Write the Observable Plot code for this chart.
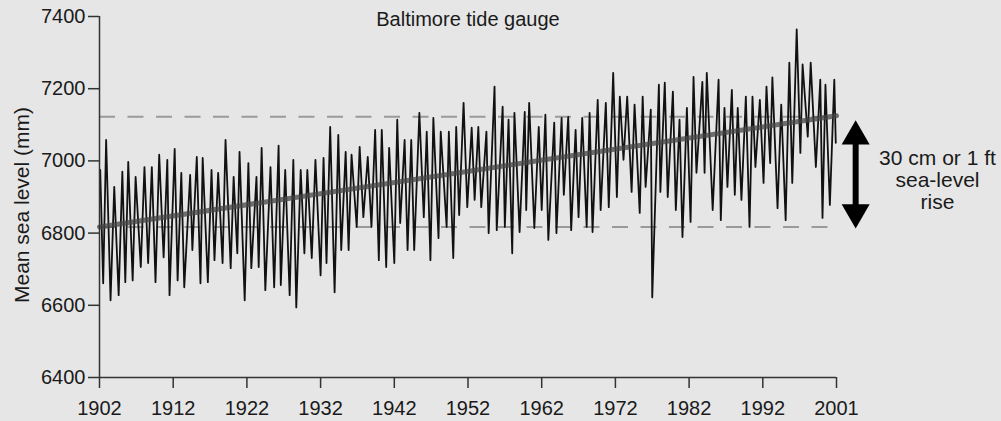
<!DOCTYPE html>
<html><head><meta charset="utf-8">
<script src="https://cdn.jsdelivr.net/npm/d3@7"></script>
<script src="https://cdn.jsdelivr.net/npm/@observablehq/plot@0.6"></script>
<style>html,body{margin:0;padding:0;background:#e6e6e6;}</style>
</head><body><div id="chart"></div>
<script>
// Monthly mean sea level, Baltimore — seasonal highs and lows
const peakYear = [1902.1,1902.9,1904.0,1905.1,1905.9,1906.9,1908.1,1909.1,1910.1,1911.2,1912.2,1913.1,1914.3,1915.2,1916.0,1917.2,1918.1,1919.1,1920.2,1921.0,
  1922.2,1923.3,1924.0,1925.2,1926.3,1927.2,1928.3,1929.3,1930.2,1931.3,1932.4,1933.3,1934.4,1935.4,1936.2,1937.3,1938.4,1939.4,1940.3,1941.3,
  1942.4,1943.4,1944.3,1945.4,1946.4,1947.3,1948.3,1949.4,1950.4,1951.4,1952.5,1953.4,1954.5,1955.6,1956.7,1957.5,1958.3,1959.7,1960.3,1961.6,
  1962.5,1963.7,1964.7,1965.6,1966.6,1967.5,1968.5,1969.6,1970.7,1971.7,1972.6,1973.6,1974.6,1975.7,1976.8,1977.9,1978.7,1979.8,1980.7,1981.7,
  1982.6,1983.8,1984.4,1986.0,1986.8,1987.8,1988.6,1989.7,1990.6,1991.6,1992.5,1993.3,1994.5,1995.6,1996.6,1997.4,1998.5,1999.8,2000.5,2001.7];
const peakLevel = [6975,7058,6928,6970,6997,6956,6983,6983,7017,7003,7033,6967,6961,7011,7008,6975,6967,7058,6956,7025,
  6994,6956,7036,6983,7042,6975,7003,6975,6975,7003,7008,7094,7072,7025,7017,7039,7011,7086,7086,7036,
  7114,7058,7058,7133,7081,7119,7081,7081,7094,7161,7092,7094,7081,7206,7150,7114,7133,7136,7161,7094,
  7128,7106,7119,7122,7086,7119,7133,7169,7161,7244,7178,7178,7156,7178,7142,7211,7217,7192,7114,7147,
  7233,7219,7244,7225,7147,7197,7147,7178,7178,7169,7206,7231,7156,7272,7364,7267,7272,7225,7211,7225];
const troughYear = [1902.5,1903.5,1904.6,1905.5,1906.5,1907.6,1908.6,1909.6,1910.7,1911.5,1912.6,1913.5,1914.6,1915.7,1916.7,1917.6,1918.7,1919.8,1920.7,1921.7,
  1922.6,1923.6,1924.5,1925.7,1926.6,1927.8,1928.7,1929.8,1930.8,1932.0,1932.8,1933.9,1934.8,1935.8,1936.9,1937.8,1938.9,1939.9,1940.9,
  1942.0,1942.8,1943.8,1944.7,1946.0,1946.9,1948.0,1949.1,1950.0,1950.8,1951.9,1952.9,1953.8,1954.8,1955.9,1957.0,1958.0,1959.0,1959.9,1961.0,
  1962.0,1962.9,1964.0,1965.0,1966.0,1967.0,1968.1,1968.9,1970.0,1971.1,1972.2,1973.1,1974.2,1975.3,1976.1,1977.0,1978.1,1979.1,1980.2,1981.1,
  1982.2,1983.0,1984.1,1985.2,1986.3,1987.2,1988.2,1989.1,1990.2,1991.0,1992.1,1993.0,1994.0,1995.1,1996.0,1997.1,1998.1,1999.2,2000.1,2001.1,2001.9];
const troughLevel = [6661,6614,6628,6664,6669,6706,6717,6664,6733,6628,6669,6650,6753,6661,6664,6725,6717,6703,6744,6614,
  6703,6706,6642,6650,6656,6628,6594,6744,6731,6683,6717,6636,6753,6753,6817,6844,6817,6725,6706,
  6717,6828,6753,6753,6844,6725,6786,6817,6731,6850,6872,6892,6872,6800,6808,6817,6744,6803,6864,6814,
  6864,6781,6800,6906,6808,6844,6817,6803,6864,6872,6900,7003,6914,6856,6928,6622,6914,6900,6864,6789,
  6831,6967,6967,6864,6836,6928,6906,6892,6817,6983,6939,6994,6869,6836,6939,7022,7067,6983,6842,6878,7050];

// Linear trend and the 30 cm rise band
const trendYear = [1902, 2002];
const trendLevel = [6817, 7125];
const riseLevels = [6817, 7122];

// Axes
const yTicks = [6400, 6600, 6800, 7000, 7200, 7400];
const xTicks = [1902, 1912, 1922, 1932, 1942, 1952, 1962, 1972, 1982, 1992, 2002];
const xTickLabels = ["1902", "1912", "1922", "1932", "1942", "1952", "1962", "1972", "1982", "1992", "2001"];

// Text
const titleText = "Baltimore tide gauge";
const yLabel = "Mean sea level (mm)";
const noteText = "30 cm or 1 ft\nsea-level\nrise";
const arrowYear = 2004.6;
const noteYear = 2015.7;
const noteLevel = 6948;
const arrowTop = 7112, arrowBottom = 6813;

const series = [
  ...peakYear.map((t, i) => ({t, v: peakLevel[i]})),
  ...troughYear.map((t, i) => ({t, v: troughLevel[i]}))
].sort((a, b) => a.t - b.t);
const trend = trendYear.map((t, i) => ({t, v: trendLevel[i]}));
const labelMap = new Map(xTicks.map((d, i) => [d, xTickLabels[i]]));

const chart = Plot.plot({
  width: 1001, height: 421,
  marginLeft: 99, marginRight: 165, marginTop: 16, marginBottom: 44,
  style: {background: "#e6e6e6", fontFamily: "'Liberation Sans', Arial, sans-serif", color: "#1a1a1a", overflow: "visible"},
  x: {domain: [1902, 2002]},
  y: {domain: [6400, 7400]},
  marks: [
    Plot.ruleY(riseLevels, {stroke: "#9a9a9a", strokeWidth: 2, strokeDasharray: "16,12.5"}),
    Plot.line(series, {x: "t", y: "v", stroke: "#111", strokeWidth: 1.8}),
    Plot.line(trend, {x: "t", y: "v", stroke: "#444", strokeOpacity: 0.75, strokeWidth: 5}),
    Plot.ruleX([1902], {stroke: "#333", strokeWidth: 1.5}),
    Plot.ruleY([6400], {stroke: "#333", strokeWidth: 1.5}),
    Plot.axisY({ticks: yTicks, tickFormat: d => String(d), tickSize: 11, tickPadding: 3, fontSize: 20, label: null, stroke: "#333", strokeWidth: 1.5}),
    Plot.axisX({ticks: xTicks, tickFormat: d => labelMap.get(d), tickSize: 11, tickPadding: 12, fontSize: 20, label: null, stroke: "#333", strokeWidth: 1.5}),
    Plot.text([titleText], {frameAnchor: "top", lineAnchor: "top", dy: -5, fontSize: 20}),
    Plot.text([yLabel], {frameAnchor: "left", rotate: -90, dx: -77, dy: 8, fontSize: 21, textAnchor: "middle", lineAnchor: "middle"}),
    Plot.ruleX([{x: arrowYear, y1: arrowTop, y2: arrowBottom}], {x: "x", y1: "y1", y2: "y2", stroke: "black", strokeWidth: 6, insetTop: 14, insetBottom: 14}),
    Plot.dot([{x: arrowYear, y: arrowTop}], {x: "x", y: "y", symbol: "triangle", r: 10.4, fill: "black", stroke: "none", dy: 16}),
    Plot.dot([{x: arrowYear, y: arrowBottom}], {x: "x", y: "y", symbol: "triangle", r: 10.4, fill: "black", stroke: "none", rotate: 180, dy: -16}),
    Plot.text([{x: noteYear, y: noteLevel, label: noteText}], {x: "x", y: "y", text: "label", fontSize: 21, lineHeight: 1.05, textAnchor: "middle"})
  ]
});
document.getElementById("chart").appendChild(chart);
</script>
</body></html>
